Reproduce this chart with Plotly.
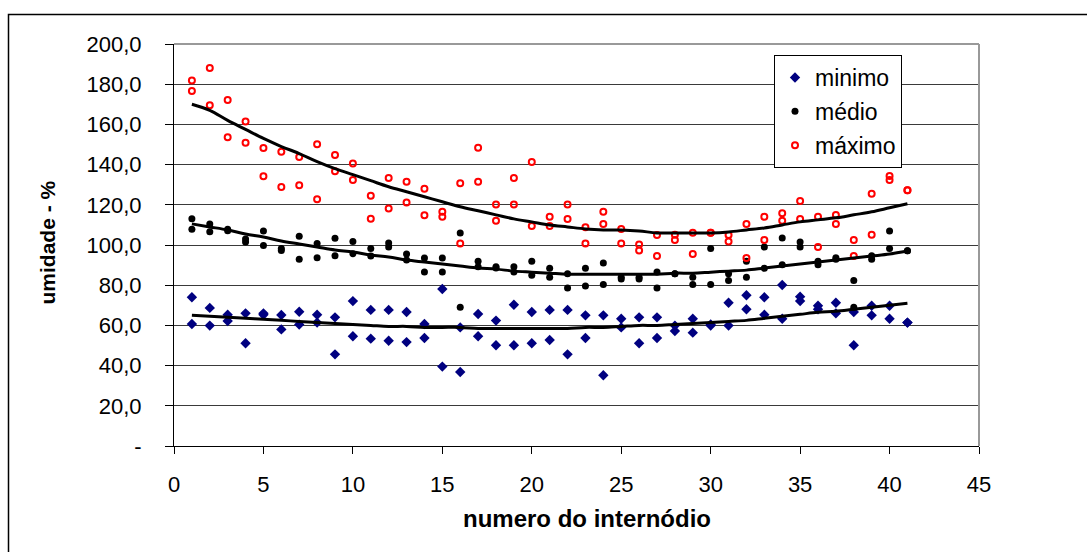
import plotly.graph_objects as go

internodes = list(range(1, 42))

minimo_a = [74.0, 68.7, 65.3, 66.0, 66.0, 65.2, 66.8, 65.3, 64.0, 72.1,
            67.7, 67.7, 66.7, 60.7, 78.1, 59.0, 65.7, 62.4, 70.3, 66.7,
            67.7, 67.7, 65.0, 65.0, 63.3, 64.0, 64.0, 59.9, 63.3, 59.9,
            71.3, 75.0, 74.0, 80.1, 74.3, 69.8, 71.3, 66.7, 69.8, 69.8, 61.4]
minimo_b = [60.7, 59.9, 62.2, 51.1, 65.3, 58.0, 60.4, 61.4, 45.6, 54.6,
            53.4, 52.4, 51.7, 53.7, 39.5, 36.8, 54.6, 50.1, 50.1, 51.1,
            52.7, 45.6, 53.7, 35.2, 59.0, 51.1, 53.7, 57.2, 56.4, 60.5,
            59.9, 68.0, 65.3, 63.3, 72.1, 68.0, 66.0, 50.1, 65.0, 63.3, 61.4]

medio_a = [113.1, 110.4, 107.8, 103.0, 107.0, 98.2, 104.3, 100.8, 103.3, 101.7,
           98.2, 101.0, 95.5, 93.5, 93.5, 106.0, 91.9, 89.2, 89.2, 91.9,
           88.4, 85.7, 88.4, 91.0, 83.9, 83.9, 86.6, 85.7, 83.9, 98.2,
           85.7, 91.9, 99.0, 103.5, 101.5, 91.9, 93.7, 82.3, 94.7, 107.0, 97.2]
medio_b = [107.8, 106.6, 107.1, 101.5, 99.8, 97.3, 92.9, 93.7, 94.7, 95.7,
           94.5, 99.0, 92.5, 86.6, 86.6, 69.0, 89.2, 88.6, 86.6, 84.9,
           83.9, 78.6, 79.6, 80.4, 83.1, 83.1, 78.6, 85.7, 80.4, 80.4,
           82.3, 83.9, 88.4, 90.2, 99.0, 90.2, 92.9, 69.0, 92.9, 98.2, 97.2]

maximo_a = [181.8, 188.1, 172.1, 161.5, 148.3, 146.4, 143.8, 150.1, 144.8, 140.5,
            124.5, 133.3, 131.5, 128.0, 116.6, 130.7, 148.4, 120.1, 133.3, 141.3,
            114.1, 120.1, 108.8, 116.6, 108.0, 100.2, 105.0, 105.1, 106.1, 106.1,
            105.0, 110.4, 114.1, 115.8, 121.9, 114.1, 114.9, 102.5, 125.5, 134.3, 127.2]
maximo_b = [176.6, 169.5, 153.6, 150.9, 134.2, 128.9, 129.7, 122.7, 136.7, 132.3,
            113.1, 118.2, 121.1, 114.8, 114.1, 100.8, 131.5, 112.1, 120.1, 109.5,
            109.5, 112.9, 100.8, 110.4, 100.8, 97.3, 94.5, 102.5, 95.5, 106.1,
            101.8, 93.5, 102.5, 112.1, 112.9, 99.0, 110.4, 94.5, 105.1, 132.3, 127.2]

# trend lines
trend_min = [65, 64.5, 64, 63.5, 63, 62.5, 62, 61.5, 61, 60.5,
             60, 59.5, 59.5, 59, 59, 59, 58.5, 58.5, 58.5, 58.5,
             58.5, 58.5, 59, 59, 59.5, 60, 60, 60.5, 61, 61.5,
             62, 62.5, 63.5, 64.5, 65.5, 66.5, 67, 68, 69, 70, 71]
trend_med = [110.5, 109, 107.5, 105.5, 104, 102, 100.5, 99, 97.5, 96.5,
             95, 94, 92.5, 91.5, 90.5, 89.5, 88.5, 88, 87, 86.5,
             86, 85.5, 85.5, 85.5, 85.5, 85.5, 85.5, 86, 86, 86.5,
             87, 87.5, 88.5, 89.5, 90.5, 91.5, 92.5, 93.5, 94.5, 95.5, 97]
trend_max = [170, 167, 162, 157.5, 153, 149, 145.5, 141.5, 138, 135,
             132, 129, 126.5, 124, 121.5, 119, 117, 115, 113, 111.5,
             110, 109, 108, 107.5, 107.5, 107, 106, 106, 106, 106,
             106.5, 107.5, 108.5, 110, 111.5, 112.5, 113.5, 115, 116.5, 118.5, 120.5]

y_ticks = [0, 20, 40, 60, 80, 100, 120, 140, 160, 180, 200]
y_ticktext = ["-", "20,0", "40,0", "60,0", "80,0", "100,0", "120,0", "140,0", "160,0", "180,0", "200,0"]
x_ticks = [0, 5, 10, 15, 20, 25, 30, 35, 40, 45]

FONT = "Arial, Liberation Sans, sans-serif"

fig = go.Figure()

xs = internodes + internodes
series = [
    ("minimo", minimo_a + minimo_b, dict(symbol="diamond", size=8, color="#000080")),
    ("médio", medio_a + medio_b, dict(symbol="circle", size=7, color="#000000")),
    ("máximo", maximo_a + maximo_b, dict(symbol="circle-open", size=6, color="#FF0000",
                                         line=dict(width=2, color="#FF0000"))),
]
for i, (name, ys, mk) in enumerate(series):
    fig.add_trace(go.Scatter(x=xs, y=ys, mode="markers", name=name, marker=mk,
                             legendgroup=name, cliponaxis=False))

for tr in [trend_min, trend_med, trend_max]:
    fig.add_trace(go.Scatter(x=internodes, y=tr, mode="lines", showlegend=False,
                             line=dict(color="black", width=3, shape="spline")))

L, R, T, B = 174, 108, 44, 106
W, H = 1087, 552
pw, ph = W - L - R, H - T - B

def px(x):
    return (x - L) / pw

def py(y):
    return (H - B - y) / ph

fig.update_layout(
    width=W, height=H,
    margin=dict(l=L, r=R, t=T, b=B),
    paper_bgcolor="white", plot_bgcolor="white",
    font=dict(family=FONT, color="black", size=20),
    xaxis=dict(range=[0, 45], tickvals=x_ticks, ticks="outside", ticklen=7,
               tickcolor="black", showgrid=False, zeroline=False, showline=True,
               linecolor="black", linewidth=1, tickfont=dict(size=22),
               ticklabelstandoff=12),
    yaxis=dict(range=[0, 200], tickvals=y_ticks, ticktext=y_ticktext, ticks="outside",
               ticklen=8, tickcolor="black", showgrid=True, gridcolor="#3a3a3a",
               gridwidth=1, zeroline=False, showline=True, linecolor="black",
               linewidth=1, tickfont=dict(size=22), ticklabelstandoff=19),
    legend=dict(x=px(774), y=py(55), xanchor="left", yanchor="top",
                bgcolor="white", bordercolor="black", borderwidth=1,
                font=dict(size=23, family=FONT), itemwidth=30,
                tracegroupgap=1, traceorder="grouped"),
    showlegend=True,
    shapes=[
        dict(type="line", xref="paper", yref="paper", x0=0, x1=1, y0=1, y1=1,
             line=dict(color="#999999", width=2)),
        dict(type="line", xref="paper", yref="paper", x0=1, x1=1, y0=0, y1=1,
             line=dict(color="#999999", width=2)),
        dict(type="rect", xref="paper", yref="paper", x0=px(8.5), x1=px(1092),
             y0=py(560), y1=py(14.5), line=dict(color="black", width=1.5),
             fillcolor="rgba(0,0,0,0)", layer="below"),
    ],
    annotations=[
        dict(text="<b>numero do internódio</b>", xref="paper", yref="paper",
             x=px(587), y=py(518), showarrow=False, font=dict(size=24),
             xanchor="center", yanchor="middle"),
        dict(text="<b>umidade - %</b>", xref="paper", yref="paper",
             x=px(46.5), y=py(243), showarrow=False, font=dict(size=21),
             textangle=-90, xanchor="center", yanchor="middle"),
    ],
)

fig.write_html("out.html")
